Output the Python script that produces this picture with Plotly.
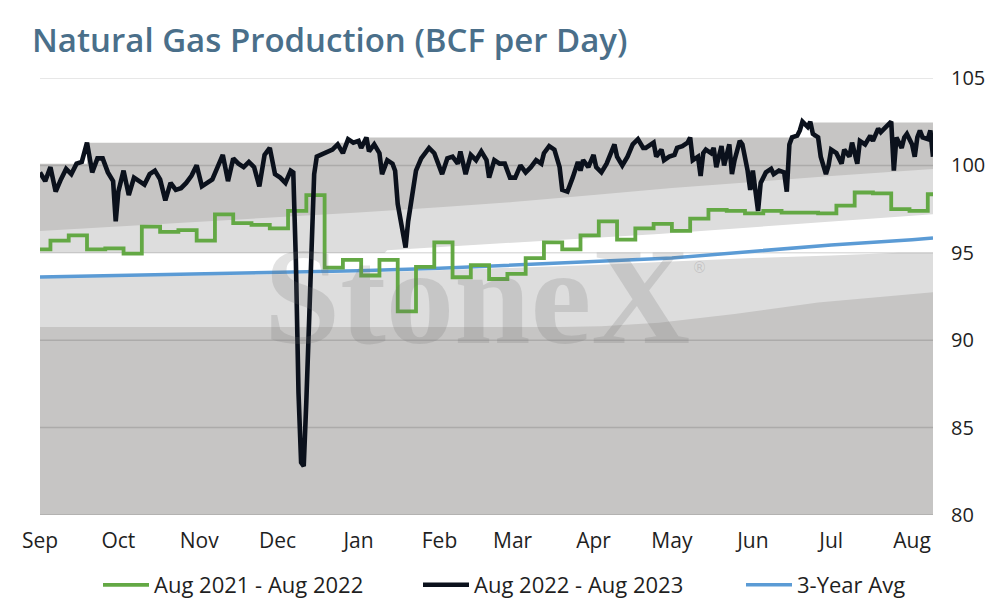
import pandas as pd
import plotly.graph_objects as go

START = pd.Timestamp("2022-09-01")
END = pd.Timestamp("2023-08-09")

# ---------------- data (day offsets from Sep 1) ----------------
black_days = [0,2,4,6,8,10,12,14,16,18,20,22,24,26,28,29,30,32,34,36,38,40,42,44,46,48,50,52,54,56,58,60,62,64,66,68,70,72,74,76,78,80,82,84,86,88,90,92,94,96,97,98,99,100,101,102,103,104,105,106,109,112,114,116,118,120,122,123,125,126,128,130,131,133,135,136,137,139,140,141,143,144,146,149,151,152,154,156,158,160,161,163,165,167,169,171,172,174,176,178,180,182,184,186,188,190,192,193,195,197,198,199,200,202,204,206,207,208,210,212,213,215,217,219,220,221,223,225,227,229,231,232,235,236,238,239,241,243,244,246,248,249,250,252,253,254,255,257,258,259,261,262,264,265,266,268,269,271,272,273,275,276,278,280,281,283,285,286,287,288,290,291,292,294,295,296,298,299,301,302,303,305,307,308,310,311,313,314,316,318,319,321,322,324,326,327,328,330,331,332,334,335,336,337,338,340,341,342]
black_vals = [99.6,99.1,99.9,98.5,99.2,99.8,99.5,100.1,100.2,101.3,99.6,100.4,100.4,99.6,99.1,96.8,98.5,99.7,98.3,99.3,99.1,98.9,99.5,99.7,99.2,98.0,99.0,98.6,98.7,99.0,99.4,100.0,98.8,99.0,99.2,99.9,100.6,99.1,100.4,100.1,99.9,100.2,99.9,98.8,100.6,101.0,99.5,99.3,99.0,99.7,99.6,94.5,87.0,83.0,82.8,86.5,91.5,96.5,99.5,100.5,100.7,100.9,101.2,100.7,101.5,101.3,101.4,101.0,101.6,100.8,101.2,100.7,99.5,100.3,100.1,99.7,97.8,95.9,95.3,96.8,98.8,99.7,100.4,101.0,100.7,100.3,99.5,100.4,100.5,100.1,100.8,99.5,100.6,100.3,100.8,100.3,99.3,100.3,100.1,100.1,99.3,99.3,100.0,99.6,99.9,100.3,100.1,100.7,101.1,100.9,100.4,99.9,98.6,98.5,99.3,100.2,99.7,100.3,99.9,100.6,99.9,99.6,100.1,100.9,101.2,100.5,100.0,100.5,101.2,101.5,101.0,101.0,101.3,100.5,100.9,100.3,100.5,100.6,101.0,101.1,101.3,101.6,100.3,100.5,99.4,100.7,100.9,100.7,101.0,99.9,101.1,100.0,101.2,99.5,100.3,101.4,101.2,99.7,98.6,99.7,97.4,99.0,99.6,99.8,99.5,99.7,99.6,98.5,101.2,101.6,101.7,102.0,102.5,102.2,102.5,101.8,101.6,100.5,99.5,100.0,100.9,100.7,100.1,100.9,100.5,101.3,100.1,101.4,101.2,101.7,101.4,102.1,101.9,102.2,102.5,99.7,101.6,101.0,101.6,101.8,101.2,100.5,101.6,102.0,101.6,101.5,102.0,100.5]

green_days = [0,4,11,18,25,32,39,46,53,60,67,74,81,88,95,102,109,116,123,130,137,144,151,158,165,172,179,186,193,200,207,214,221,228,235,242,249,256,263,270,277,284,291,298,305,312,319,326,333,340,342]
green_vals = [95.2,95.7,96.0,95.2,95.25,94.95,96.5,96.2,96.3,95.7,97.2,96.7,96.6,96.4,97.4,98.3,94.15,94.6,93.7,94.6,91.65,94.2,95.6,93.6,94.3,93.5,93.8,94.7,95.6,95.2,96.0,96.8,95.75,96.4,96.65,96.25,96.95,97.45,97.4,97.25,97.4,97.3,97.3,97.25,97.7,98.45,98.4,97.5,97.4,98.35,98.35]

avg_days = [0,30,61,91,122,153,181,212,242,273,303,334,342]
avg_vals = [93.62,93.7,93.78,93.85,93.97,94.12,94.28,94.5,94.7,95.1,95.45,95.75,95.84]

# shaded range bands (drawn from the bottom of the axis, back to front)
max_days = [0,18,125,296,342]
max_vals = [100.1,101.3,101.6,102.45,102.45]
upper_days = [0,30,61,91,122,153,181,212,242,273,303,342]
upper_vals = [96.25,96.5,96.75,97.0,97.3,97.6,97.9,98.3,98.7,99.05,99.4,99.8]
white_days = [0,132,133,237,342]
white_vals = [95.0,95.0,95.15,96.08,97.2]
lower_days = [0,61,122,153,181,212,242,273,303,329,342]
lower_vals = [93.65,93.72,93.85,94.0,94.15,94.3,94.5,94.7,94.85,95.0,95.0]
min_days = [0,199,215,237,266,298,342]
min_vals = [90.75,90.75,90.8,91.0,91.5,92.15,92.75]

grid_vals = [80, 85, 90, 95, 100, 105]

series_names = ["Aug 2021 - Aug 2022", "Aug 2022 - Aug 2023", "3-Year Avg"]
title_text = "Natural Gas Production (BCF per Day)"

DARK = "#c6c5c4"
LIGHT = "#dddddd"
FONT = "Open Sans"

# page has an 8px body margin: size the figure to fill the remaining window
W, H = 986, 598


def to_dates(days):
    return [START + pd.Timedelta(days=d) for d in days]


fig = go.Figure()

bands = [
    (max_days, max_vals, DARK, "hv"),
    (upper_days, upper_vals, LIGHT, "linear"),
    (white_days, white_vals, "#ffffff", "linear"),
    (lower_days, lower_vals, LIGHT, "linear"),
    (min_days, min_vals, DARK, "linear"),
]
for days, vals, col, shape in bands:
    fig.add_trace(go.Scatter(
        x=to_dates(days), y=vals, mode="lines", fill="tozeroy",
        fillcolor=col, line=dict(width=0, color=col, shape=shape),
        showlegend=False, hoverinfo="skip"))

# gridlines drawn over the bands but beneath the series
gx, gy = [], []
for g in grid_vals:
    gx += [START, END, None]
    gy += [g, g, None]
fig.add_trace(go.Scatter(x=gx, y=gy, mode="lines",
                         line=dict(color="rgba(0,0,0,0.13)", width=1.5),
                         showlegend=False, hoverinfo="skip"))

fig.add_trace(go.Scatter(x=to_dates(avg_days), y=avg_vals, mode="lines",
                         name=series_names[2], legend="legend3",
                         line=dict(color="#5b9bd5", width=3.5)))
fig.add_trace(go.Scatter(x=to_dates(green_days), y=green_vals, mode="lines",
                         name=series_names[0], legend="legend",
                         line=dict(color="#63a844", width=3.8, shape="hv")))
fig.add_trace(go.Scatter(x=to_dates(black_days), y=black_vals, mode="lines",
                         name=series_names[1], legend="legend2",
                         line=dict(color="#0b111c", width=4.6)))

fig.add_annotation(text="StoneX", xref="paper", yref="paper", x=0.489, y=0.50,
                   xanchor="center", yanchor="middle", showarrow=False,
                   font=dict(family="Liberation Serif", size=137,
                             color="rgba(110,110,110,0.2)", weight="bold"))
fig.add_annotation(text="®", xref="paper", yref="paper", x=0.738, y=0.565,
                   xanchor="center", yanchor="middle", showarrow=False,
                   font=dict(family="DejaVu Sans", size=15, color="rgba(110,110,110,0.22)"))


def legend_at(px):
    return dict(orientation="h", xref="container", yref="container",
                x=px / W, xanchor="left", y=1 - 577 / H, yanchor="middle",
                font=dict(size=22), itemwidth=46, bgcolor="rgba(0,0,0,0)")


fig.update_layout(
    width=W, height=H,
    margin=dict(l=32, r=61, t=70, b=91, autoexpand=False),
    paper_bgcolor="white", plot_bgcolor="white",
    hovermode=False,
    font=dict(family=FONT, size=21, color="#1f1f1f"),
    title=dict(text=title_text, xref="container", yref="container",
               x=24 / W, y=1 - 32 / H, xanchor="left", yanchor="middle",
               font=dict(family=FONT, size=33, color="#4a6f8a", weight=600)),
    xaxis=dict(type="date", range=[START, END], tickformat="%b", dtick="M1",
               tick0="2022-09-01", showgrid=False, zeroline=False,
               showline=False, ticks="", ticklabelstandoff=11, automargin=False),
    yaxis=dict(range=[80, 105], dtick=5, side="right", showgrid=False,
               zeroline=False, showline=False, ticks="", ticklabelstandoff=17,
               automargin=False, tickfont=dict(size=20)),
    legend=legend_at(90),
    legend2=legend_at(410),
    legend3=legend_at(733),
)

fig.write_html("out.html")
